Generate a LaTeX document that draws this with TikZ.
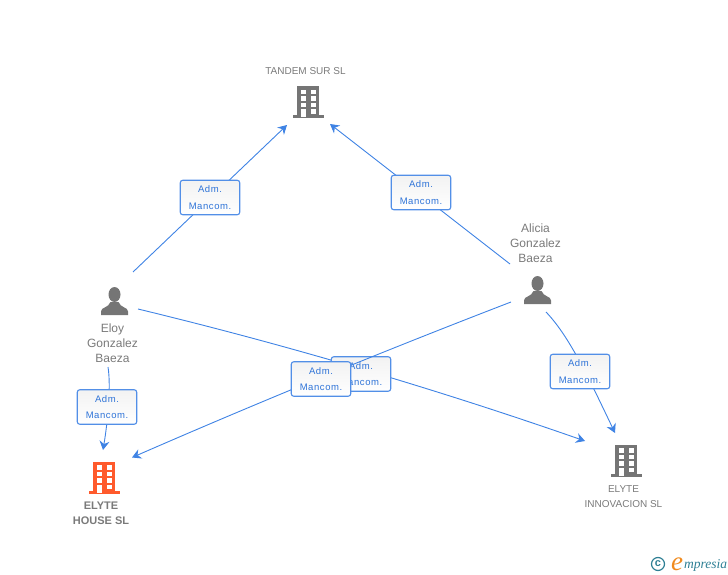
\documentclass[tikz,border=0pt]{standalone}
\usepackage{fontspec}
\setmainfont{Liberation Sans}
\newfontfamily\logofont{Liberation Serif}
\usetikzlibrary{arrows.meta}
\definecolor{linkblue}{HTML}{3F83E4}
\definecolor{textblue}{HTML}{2F74D8}
\definecolor{iconGrey}{HTML}{757575}
\definecolor{houseRed}{HTML}{FF5A2C}
\definecolor{logoTeal}{HTML}{2E7F94}
\definecolor{logoOrange}{HTML}{F08A1D}

\begin{document}
\begin{tikzpicture}[x=1pt,y=-1pt]
		\tikzset{
			>={Stealth[length=9pt,width=10pt,inset=3pt]},
			link/.style={draw=linkblue, line width=0.9pt},
			rolebox/.style={draw=linkblue!90, line width=1.1pt, rounded corners=2.5pt, minimum width=59.5pt, minimum height=34.5pt, inner sep=0pt, align=center, top color=black!5, bottom color=white, text=textblue, font=\fontsize{9.5}{16.5}\selectfont\addfontfeature{LetterSpace=6}},
			nametext/.style={align=center, inner sep=0pt, text=black!52, font=\fontsize{10}{15}\selectfont},
			persontext/.style={nametext, font=\fontsize{12}{15}\selectfont},
			building/.pic={
				\fill[pic actions] (-15.5,-3) rectangle (15.5,0);
				\fill[pic actions] (-11,-32) rectangle (11,-1);
				\foreach \row in {-28.5,-22,-15.5}
					\foreach \col in {-7.5,2.5}
						\fill[white] (\col,\row) rectangle ++(5,4.5);
				\fill[white] (-7.5,-9) rectangle (-2.5,-1);
				\fill[white] (2.5,-9) rectangle (7.5,-4.5);
			},
			person/.pic={
				\fill[pic actions] (0,-20.5) ellipse (6pt and 7.5pt);
				\fill[pic actions] (-13.5,0) -- (-13.5,-3.5) .. controls (-13.5,-8) and (-6,-7) .. (-4,-13) -- (4,-13) .. controls (6,-7) and (13.5,-8) .. (13.5,-3.5) -- (13.5,0) -- cycle;
			}
		}
		\useasboundingbox (0,0) rectangle (728,575);

		% Icons
		\pic[fill=iconGrey] at (308,118.5) {building};
		\pic[fill=iconGrey] at (626,476.5) {building};
		\pic[fill=houseRed] at (104,493.5) {building};
		\pic[fill=iconGrey] at (114.5,315) {person};
		\pic[fill=iconGrey] at (537.5,304) {person};

		% Names
		\node[nametext] (tandem) at (305.5,71) {TANDEM SUR SL};
		\node[persontext] (eloy) at (112.5,343) {Eloy\\Gonzalez\\Baeza};
		\node[persontext] (alicia) at (535.5,243) {Alicia\\Gonzalez\\Baeza};
		\node[nametext, font=\fontsize{11}{15}\selectfont\bfseries] (house) at (101,513.5) {ELYTE\\HOUSE SL};
		\node[nametext] (innovacion) at (623.5,496.5) {ELYTE\\INNOVACION SL};

		% Line ends
		\coordinate (eloyA) at (133,272);
		\coordinate (eloyB) at (138,309);
		\coordinate (eloyC) at (108,367);
		\coordinate (aliciaA) at (510,264);
		\coordinate (aliciaB) at (511,302);
		\coordinate (aliciaC) at (546,312);
		\coordinate (tandemL) at (287,125);
		\coordinate (tandemR) at (330,124);
		\coordinate (houseT) at (103,450);
		\coordinate (houseR) at (132,457.5);
		\coordinate (innovL) at (585,441);
		\coordinate (innovT) at (615,433);

		% Links
		\draw[link, ->] (eloyA) -- (tandemL);
		\draw[link, ->] (aliciaA) -- (tandemR);
		\draw[link, ->] (eloyC) .. controls (111,385) and (108,420) .. (houseT);
		\draw[link, ->] (aliciaC) .. controls (568,335) and (586,372) .. (innovT);
		\draw[link, ->] (eloyB) .. controls (287,345) and (436,389) .. (innovL);

		% Labels
		\node[rolebox] (roleA) at (210,197.5) {Adm.\\Mancom.};
		\node[rolebox] (roleB) at (421,192.5) {Adm.\\Mancom.};
		\node[rolebox] (roleC) at (107,407) {Adm.\\Mancom.};
		\node[rolebox] (roleD) at (580,371.5) {Adm.\\Mancom.};
		\node[rolebox] (roleE) at (361,374) {Adm.\\Mancom.};
		\draw[link, ->] (aliciaB) .. controls (385,350.5) and (258,402.5) .. (houseR);
		\node[rolebox] (roleF) at (321,379) {Adm.\\Mancom.};

		% Logo
		\node[circle, draw=logoTeal, line width=1.2pt, minimum size=13pt, inner sep=0pt, text=logoTeal, font=\fontsize{11}{11}\selectfont\bfseries] (copyr) at (658,564) {c};
		\node[anchor=base west, inner sep=0pt, text=logoOrange, font=\logofont\itshape\fontsize{27}{27}\selectfont] (logoE) at (671,570) {e};
		\node[anchor=base west, inner sep=0pt, text=logoTeal, font=\logofont\itshape\fontsize{13.5}{13.5}\selectfont] (logoT) at (684,568) {mpresia};
	\end{tikzpicture}
\end{document}
